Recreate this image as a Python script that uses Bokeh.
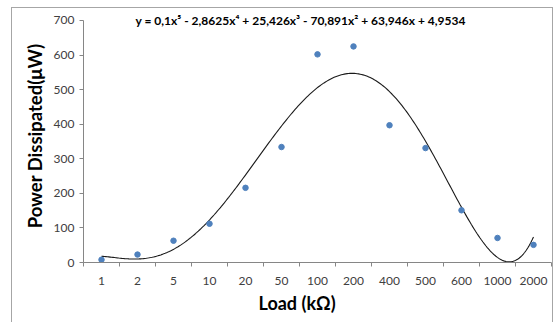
import numpy as np
from bokeh.plotting import figure
from bokeh.models import FixedTicker, Label, Range1d, Title, Spacer
from bokeh.layouts import row, column
from bokeh.embed import file_html
from bokeh.resources import INLINE

loads = ["1", "2", "5", "10", "20", "50", "100", "200", "400", "500", "600", "1000", "2000"]
power = [8, 23, 63, 112, 216, 334, 602, 625, 397, 331, 151, 71, 51]
equation = "y = 0,1x\u2075 - 2,8625x\u2074 + 25,426x\u00b3  - 70,891x\u00b2 + 63,946x + 4,9534"
y_ticks = [0, 100, 200, 300, 400, 500, 600, 700]

FONT = "Lato"
idx = list(range(1, len(loads) + 1))

p = figure(width=542, height=315, output_backend="svg", toolbar_location=None,
           x_range=Range1d(0.5, len(loads) + 0.5), y_range=Range1d(0, 731.8),
           min_border_left=71, min_border_right=3, min_border_top=1, min_border_bottom=61)
p.styles = {"border-left": "1px solid #a6a6a6", "border-top": "1px solid #a6a6a6",
            "border-right": "1px solid #a6a6a6"}
p.outline_line_color = None
p.grid.grid_line_color = None
p.background_fill_color = "white"
p.border_fill_color = "white"

# 5th-order polynomial trendline (least-squares, like the spreadsheet trendline)
coeffs = np.polyfit(idx, power, 5)
xs = np.linspace(1, len(loads), 300)
p.line(xs, np.polyval(coeffs, xs), line_color="#1a1a1a", line_width=1.1)
# data points
p.scatter(idx, power, size=5.5, color="#4F81BD")

# x axis
xa = p.xaxis[0]
xa.ticker = FixedTicker(ticks=idx, minor_ticks=[i + 0.5 for i in range(0, len(loads) + 1)])
xa.major_label_overrides = {i: l for i, l in zip(idx, loads)}
xa.major_tick_line_color = None
xa.major_tick_out = 0
xa.major_tick_in = 0
xa.minor_tick_line_color = "#868686"
xa.minor_tick_out = 4
xa.minor_tick_in = 0
xa.axis_line_color = "#868686"
xa.major_label_standoff = 10
xa.major_label_text_font = FONT
xa.major_label_text_font_size = "12px"
xa.major_label_text_color = "#404040"

# y axis
ya = p.yaxis[0]
ya.ticker = FixedTicker(ticks=y_ticks)
ya.bounds = (0, 700)
ya.minor_tick_line_color = None
ya.major_tick_out = 4
ya.major_tick_in = 0
ya.major_tick_line_color = "#868686"
ya.axis_line_color = "#868686"
ya.major_label_standoff = 5
ya.major_label_text_font = FONT
ya.major_label_text_font_size = "12px"
ya.major_label_text_color = "#404040"
ya.axis_label = "Power Dissipated(\u03bcW)"
ya.axis_label_text_font = FONT
ya.axis_label_text_font_style = "bold"
ya.axis_label_text_font_size = "18.5px"
ya.axis_label_text_color = "black"
ya.axis_label_standoff = 5

p.add_layout(Title(text="Load (k\u03a9)", align="left", offset=175, text_font=FONT,
                   text_font_style="bold", text_font_size="18px", text_color="black",
                   standoff=4), "below")
p.add_layout(Label(x=6.57, y=700, text=equation, text_font=FONT,
                   text_font_style="bold", text_font_size="12px", text_align="center",
                   text_baseline="middle", text_color="black"))

layout = row(Spacer(width=11), column(Spacer(height=7), p))
open("out.html", "w").write(file_html(layout, INLINE))
